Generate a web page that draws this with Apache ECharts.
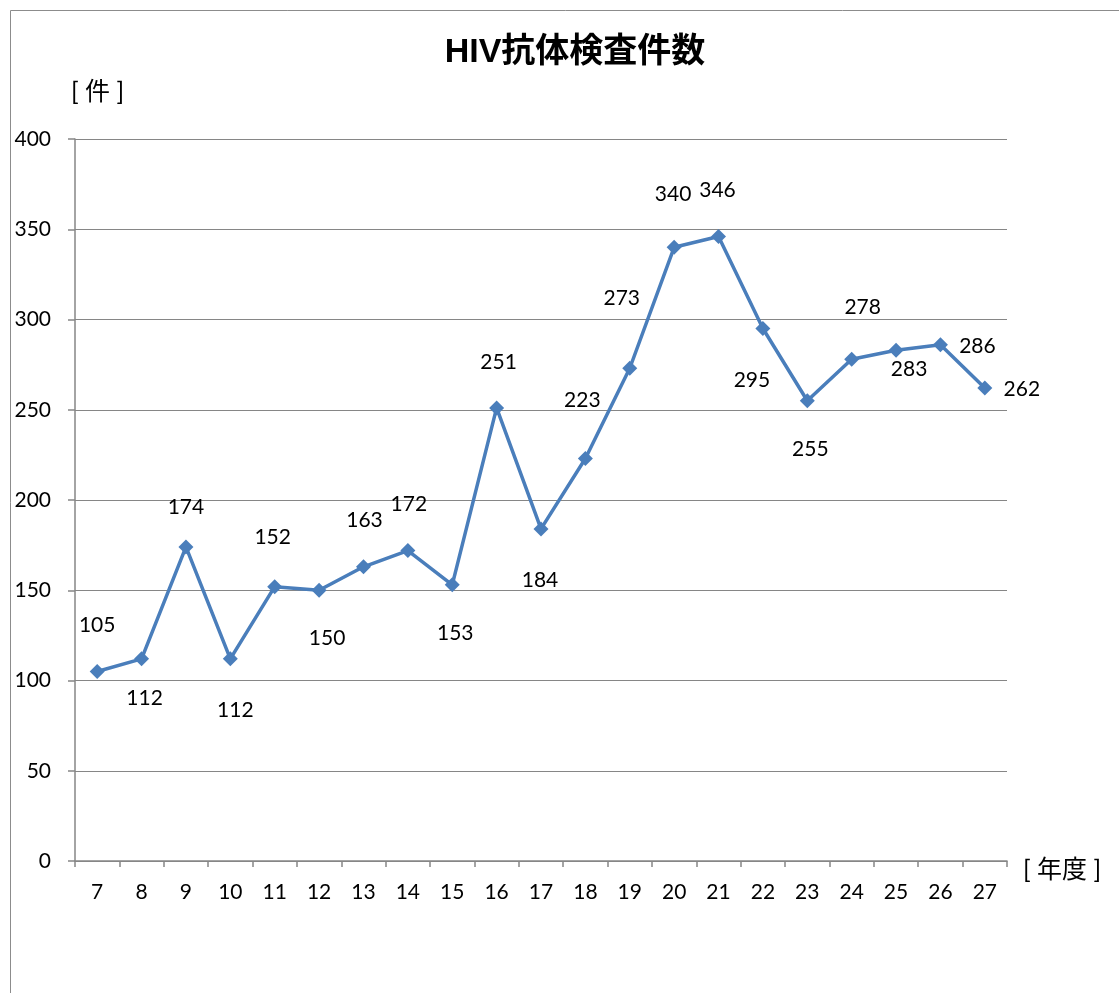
<!DOCTYPE html>
<html><head><meta charset="utf-8">
<script src="https://cdn.jsdelivr.net/npm/echarts@6/dist/echarts.min.js"></script>
<style>html,body{margin:0;padding:0;background:#fff}#c{width:1119px;height:993px}</style>
</head><body><div id="c"></div>
<script>
const categories = ['7','8','9','10','11','12','13','14','15','16','17','18','19','20','21','22','23','24','25','26','27'];
const values = [105,112,174,112,152,150,163,172,153,251,184,223,273,340,346,295,255,278,283,286,262];
const yTicks = [0,50,100,150,200,250,300,350,400];

// label placement (label centre relative to the marker), style only
const labelOffsets = [[0,-46],[3,39],[0,-40],[5,51],[-2,-49],[8,48],[1,-47],[1,-46],[3,48],[2,-46],[-1,51],[-3,-58],[-8,-70],[-1,-53],[-1,-46],[-11,52],[3,49],[11,-52],[13,19],[37,1],[37,1]];

const font = 'Lato, "Noto Sans CJK JP", sans-serif';
const chart = echarts.init(document.getElementById('c'), null, {renderer:'canvas'});
chart.setOption({
  animation:false,
  backgroundColor:'#fff',
  title:{text:'HIV抗体検査件数', left:570, top:31, textAlign:'center',
    textStyle:{fontFamily:'"Liberation Sans","Noto Sans CJK JP",sans-serif', fontWeight:'bold', fontSize:34, color:'#000'}},
  graphic:[
    {type:'rect', shape:{x:10.5,y:10.5,width:1200,height:1200}, style:{fill:'none', stroke:'#8c8c8c', lineWidth:1}, silent:true},
    {type:'text', left:71, top:79, style:{text:'[ 件 ]', font:'25px ' + font, fill:'#000'}},
    {type:'text', left:1023, top:857, style:{text:'[ 年度 ]', font:'25px ' + font, fill:'#000'}}
  ],
  grid:{left:75, right:112, top:139, bottom:132, containLabel:false},
  xAxis:{type:'category', data:categories, boundaryGap:true,
    axisLine:{lineStyle:{color:'#868686', width:1.5}},
    axisTick:{show:true, length:6, lineStyle:{color:'#868686', width:1.5}},
    axisLabel:{color:'#000', fontFamily:font, fontSize:21, margin:21}},
  yAxis:{type:'value', min:0, max:400, interval:50,
    axisLine:{show:true, lineStyle:{color:'#868686', width:1.5}},
    axisTick:{show:true, length:7, lineStyle:{color:'#868686', width:1.5}},
    splitLine:{lineStyle:{color:'#868686', width:1}},
    axisLabel:{color:'#000', fontFamily:font, fontSize:21, margin:24,
      formatter:v => yTicks.includes(v) ? String(v) : ''}},
  series:[{
    type:'line', data:values.map((v,i)=>({value:v, label:{offset:labelOffsets[i]}})),
    symbol:'diamond', symbolSize:15,
    lineStyle:{color:'#4a7ebb', width:3.5},
    itemStyle:{color:'#4a7ebb'},
    label:{show:true, position:'inside', color:'#000', fontFamily:font, fontSize:21}
  }]
});
</script></body></html>
